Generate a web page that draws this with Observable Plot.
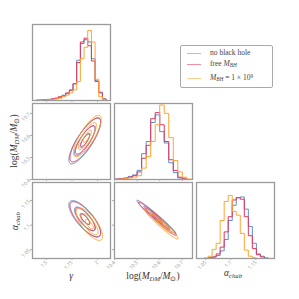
<!DOCTYPE html>
<html><head><meta charset="utf-8">
<script src="https://cdn.jsdelivr.net/npm/d3@7"></script>
<script src="https://cdn.jsdelivr.net/npm/@observablehq/plot@0.6"></script>
<style>
body{margin:0;background:#fff;}
#c{position:relative;width:299px;height:299px;overflow:hidden;font-family:"Liberation Serif",serif;}
#c svg{position:absolute;overflow:visible;background:none;}
.lab{position:absolute;font-family:"Liberation Serif",serif;font-size:9.5px;color:#333;white-space:nowrap;line-height:1;}
.lab sub{font-size:0.7em;vertical-align:-0.25em;}
#legend{position:absolute;left:180px;top:45px;width:91px;height:41px;border:1px solid #aaa;border-radius:2px;background:#fff;font-family:"Liberation Serif",serif;font-size:7.5px;color:#444;}
#legend .row{position:absolute;left:0;white-space:nowrap;line-height:1;}
#legend .ln{position:absolute;left:6px;width:14px;height:0;border-top:1.2px solid;}
#legend .tx{position:absolute;left:29px;top:-4px;}
#legend sub{font-size:0.7em;vertical-align:-0.2em;}
#legend sup{font-size:0.7em;vertical-align:0.4em;}
</style></head><body><div id="c"></div>
<script>
// ---- series ----
const seriesKeys = ["noBH", "freeBH", "fixedBH"];
const seriesColors = ["#5e8fc8", "#e3355e", "#ffa531"];

// ---- ticks / ranges ----
const gammaTicks = [1.5, 1.75, 2];
const logMTicks = [10.4, 10.5, 10.6, 10.7];
const alphaTicks = [1.05, 1.1, 1.15];
const gammaRange = [1.363, 2.127];
const logMRange = [10.4, 10.745];
const alphaRange = [1.032, 1.187];

// ---- gamma histogram ----
const gammaBinWidth = 0.036;
const gammaBins = [1.418,1.454,1.490,1.526,1.562,1.598,1.634,1.670,1.706,1.742,1.778,1.814,1.850,1.886,1.922,1.958,1.994,2.030,2.066];
const gammaNoBH   = [0.003,0.005,0.01,0.01,0.02,0.03,0.04,0.07,0.09,0.13,0.22,0.53,0.75,0.80,0.77,0.55,0.26,0.11,0.02];
const gammaFreeBH = [0.005,0.005,0.01,0.015,0.02,0.03,0.05,0.06,0.10,0.14,0.22,0.50,0.77,0.82,0.72,0.52,0.25,0.10,0.02];
const gammaFixBH  = [0,0,0.005,0.01,0.01,0.02,0.03,0.05,0.07,0.10,0.14,0.25,0.55,0.70,0.92,0.77,0.28,0.05,0.01];

// ---- log M_DM histogram ----
const logMBinWidth = 0.02;
const logMBins = [10.41,10.43,10.45,10.47,10.49,10.51,10.53,10.55,10.57,10.59,10.61,10.63,10.65,10.67,10.69,10.71,10.73];
const logMNoBH   = [0.005,0.01,0.02,0.04,0.06,0.12,0.34,0.50,0.75,0.85,0.63,0.48,0.22,0.09,0.02,0.005,0];
const logMFreeBH = [0.005,0.01,0.015,0.03,0.05,0.10,0.28,0.45,0.80,0.88,0.72,0.50,0.26,0.12,0.03,0.01,0];
const logMFixBH  = [0,0.005,0.01,0.02,0.03,0.05,0.15,0.30,0.50,0.72,0.98,0.87,0.55,0.25,0.10,0.03,0.005];

// ---- alpha_chab histogram ----
const alphaBinWidth = 0.008;
const alphaBins = [1.051,1.059,1.067,1.075,1.083,1.091,1.099,1.107,1.115,1.123,1.131,1.139,1.147,1.155,1.163,1.171];
const alphaNoBH   = [0,0.005,0.02,0.04,0.10,0.25,0.50,0.70,0.80,0.81,0.65,0.42,0.20,0.06,0.03,0.005];
const alphaFreeBH = [0,0.01,0.02,0.06,0.15,0.35,0.55,0.77,0.80,0.78,0.55,0.30,0.13,0.05,0.02,0.005];
const alphaFixBH  = [0.01,0.03,0.12,0.20,0.50,0.75,0.83,0.62,0.57,0.33,0.11,0.03,0.01,0,0,0];

// ---- 2D contour summaries: [meanX, meanY, sdX, sdY, corr] ----
const gammaLogMParams  = [[1.875,10.575,0.078,0.052,0.82],[1.880,10.580,0.075,0.050,0.82],[1.900,10.597,0.068,0.047,0.80]];
const gammaAlphaParams = [[1.875,1.113,0.078,0.0185,-0.76],[1.880,1.112,0.075,0.018,-0.78],[1.920,1.102,0.065,0.0165,-0.74]];
const logMAlphaParams  = [[10.585,1.117,0.043,0.017,-0.982],[10.590,1.113,0.042,0.017,-0.978],[10.607,1.1025,0.037,0.0153,-0.965]];
const contourSigmas = [0.6, 1.3, 2];

// ---- layout ----
const root = document.getElementById("c");
const colLeft = [32, 114, 196], rowTop = [24, 103, 182];
const PW = 78, PH = 76, ML = 30, MR = 4, MT = 4, MB = 28;
const fmt = d => `${d}`;

function stepPoints(centers, counts, w) {
  const pts = [{x: centers[0] - w/2, y: 0}];
  centers.forEach((c, i) => pts.push({x: c - w/2, y: counts[i]}));
  const last = centers[centers.length-1] + w/2;
  pts.push({x: last, y: counts[counts.length-1]});
  pts.push({x: last, y: 0});
  return pts;
}

function contourMarks(params, xr, yr) {
  return params.map((p, i) => {
    const [mx, my, sx, sy, r] = p;
    return Plot.contour({
      x1: xr[0], x2: xr[1], y1: yr[0], y2: yr[1],
      value: (x, y) => {
        const dx = (x - mx)/sx, dy = (y - my)/sy;
        return -(dx*dx - 2*r*dx*dy + dy*dy)/(1 - r*r);
      },
      thresholds: contourSigmas.map(s => -s*s),
      stroke: seriesColors[i], fill: "none", strokeWidth: 1, pixelSize: 0.5
    });
  });
}

function panel({col, row, xr, yr, xTicks, yTicks, xLab, yLab, marks}) {
  const axes = [
    Plot.frame({stroke: "#9a9a9a", strokeWidth: 1.3}),
    Plot.axisX({ticks: xTicks, tickSize: 2, tickRotate: -45, fontSize: 5, tickPadding: 1,
      tickFormat: xLab ? fmt : () => "", stroke: "#aaa", fill: "#999", label: null})
  ];
  if (yTicks) axes.push(Plot.axisY({ticks: yTicks, tickSize: 2, tickRotate: -45, fontSize: 5, tickPadding: 1,
      tickFormat: yLab ? fmt : () => "", stroke: "#aaa", fill: "#999", label: null}));
  const svg = Plot.plot({
    width: PW + ML + MR, height: PH + MT + MB,
    marginLeft: ML, marginRight: MR, marginTop: MT, marginBottom: MB,
    style: {background: "none", overflow: "visible"},
    x: {domain: xr}, y: {domain: yr, axis: yTicks ? undefined : null},
    marks: [...marks, ...axes]
  });
  svg.style.left = (colLeft[col] - ML) + "px";
  svg.style.top = (rowTop[row] - MT) + "px";
  root.appendChild(svg);
}

function histMarks(centers, arrays, w) {
  return arrays.map((a, i) => Plot.line(stepPoints(centers, a, w), {x: "x", y: "y", curve: "step-after", stroke: seriesColors[i], strokeWidth: 1}));
}

// diagonal
panel({col:0,row:0,xr:gammaRange,yr:[0,1],xTicks:gammaTicks,yTicks:null,xLab:false,
  marks: histMarks(gammaBins,[gammaNoBH,gammaFreeBH,gammaFixBH],gammaBinWidth)});
panel({col:1,row:1,xr:logMRange,yr:[0,1],xTicks:logMTicks,yTicks:null,xLab:false,
  marks: histMarks(logMBins,[logMNoBH,logMFreeBH,logMFixBH],logMBinWidth)});
panel({col:2,row:2,xr:alphaRange,yr:[0,1],xTicks:alphaTicks,yTicks:null,xLab:true,
  marks: histMarks(alphaBins,[alphaNoBH,alphaFreeBH,alphaFixBH],alphaBinWidth)});
// off-diagonal
panel({col:0,row:1,xr:gammaRange,yr:logMRange,xTicks:gammaTicks,yTicks:logMTicks,xLab:false,yLab:true,
  marks: contourMarks(gammaLogMParams,gammaRange,logMRange)});
panel({col:0,row:2,xr:gammaRange,yr:alphaRange,xTicks:gammaTicks,yTicks:alphaTicks,xLab:true,yLab:true,
  marks: contourMarks(gammaAlphaParams,gammaRange,alphaRange)});
panel({col:1,row:2,xr:logMRange,yr:alphaRange,xTicks:logMTicks,yTicks:alphaTicks,xLab:true,yLab:false,
  marks: contourMarks(logMAlphaParams,logMRange,alphaRange)});

// axis labels
function label(html, cx, cy, rot) {
  const d = document.createElement("div");
  d.className = "lab"; d.innerHTML = html;
  d.style.left = cx + "px"; d.style.top = cy + "px";
  d.style.transform = `translate(-50%,-50%)` + (rot ? ` rotate(${rot}deg)` : "");
  root.appendChild(d);
}
const logMLabel = 'log(<i>M</i><sub><i>DM</i></sub>/<i>M</i><sub>⊙</sub>)';
const alphaLabel = '<i>α</i><sub><i>chab</i></sub>';
label('<i>γ</i>', 71, 277);
label(logMLabel, 153, 277);
label(alphaLabel, 233, 274);
label(logMLabel, 15, 141, -90);
label(alphaLabel, 16, 221, -90);

// legend
const legendLabels = ['no black hole', 'free <i>M</i><sub><i>BH</i></sub>', '<i>M</i><sub><i>BH</i></sub> = 1 × 10<sup>9</sup>'];
const lg = document.createElement("div"); lg.id = "legend";
const rowY = [7, 18, 32];
legendLabels.forEach((t, i) => {
  const r = document.createElement("div"); r.className = "row"; r.style.top = rowY[i] + "px";
  r.innerHTML = `<div class="ln" style="border-color:${seriesColors[i]};opacity:0.55"></div><div class="tx">${t}</div>`;
  lg.appendChild(r);
});
root.appendChild(lg);
</script></body></html>
